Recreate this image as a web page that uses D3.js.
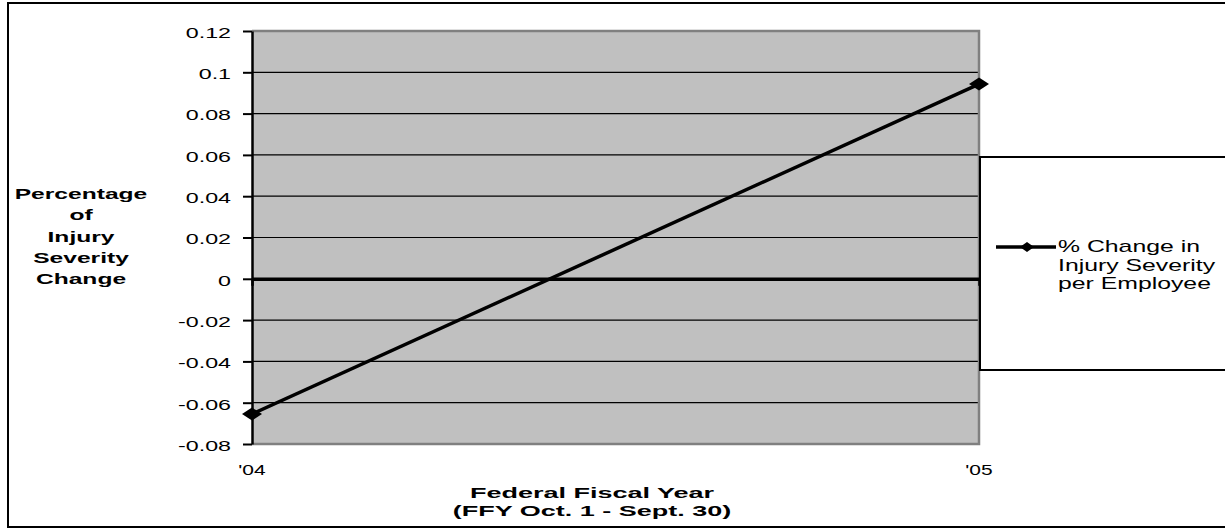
<!DOCTYPE html>
<html>
<head>
<meta charset="utf-8">
<script src="https://cdn.jsdelivr.net/npm/d3@7"></script>
<style>
  html, body { margin: 0; padding: 0; background: #fff; }
  svg { display: block; font-family: "Liberation Sans", Arial, sans-serif; }
</style>
</head>
<body>
<svg id="chart" width="1225" height="529"></svg>
<script>
// Fiscal years and the year-over-year change in injury severity
const years = ["'04", "'05"];
const severityChange = [-0.0655, 0.0943];
const yTicks = [-0.08, -0.06, -0.04, -0.02, 0, 0.02, 0.04, 0.06, 0.08, 0.1, 0.12];
const seriesName = ["% Change in", "Injury Severity", "per Employee"];
const yTitle = ["Percentage", "of", "Injury", "Severity", "Change"];
const xTitle = ["Federal Fiscal Year", "(FFY Oct. 1 - Sept. 30)"];

// Text in this chart is drawn horizontally widened
const SX = 1.55;
const FONT = 15;

const svg = d3.select("#chart");

// Wide, flat diamond marker
const flatDiamond = (w, h) => ({
  draw(ctx) {
    ctx.moveTo(0, -h / 2);
    ctx.lineTo(w / 2, 0);
    ctx.lineTo(0, h / 2);
    ctx.lineTo(-w / 2, 0);
    ctx.closePath();
  }
});

// Outer frame
svg.append("rect")
  .attr("x", 8).attr("y", 3).attr("width", 1230).attr("height", 524)
  .attr("fill", "none").attr("stroke", "#000").attr("stroke-width", 2);

const plot = { left: 252, right: 979, top: 31, bottom: 444 };

const x = d3.scalePoint().domain(years).range([plot.left, plot.right]);
const y = d3.scaleLinear().domain([-0.08, 0.12]).range([plot.bottom, plot.top]);

// Plot background
svg.append("rect")
  .attr("x", plot.left).attr("y", plot.top)
  .attr("width", plot.right - plot.left).attr("height", plot.bottom - plot.top)
  .attr("fill", "#c0c0c0");

// Horizontal gridlines
svg.append("g").selectAll("line")
  .data(yTicks.filter(t => t !== 0 && t !== 0.12 && t !== -0.08))
  .join("line")
  .attr("x1", plot.left).attr("x2", plot.right)
  .attr("y1", d => y(d)).attr("y2", d => y(d))
  .attr("stroke", "#000").attr("stroke-width", 1.2);

// Gray plot border (top, right, bottom)
svg.append("path")
  .attr("d", `M${plot.left},${plot.top}H${plot.right}V${plot.bottom}H${plot.left}`)
  .attr("fill", "none").attr("stroke", "#808080").attr("stroke-width", 2.5);

// Y axis (plain hyphen for negatives)
const yAxis = d3.axisLeft(y)
  .tickValues(yTicks)
  .tickFormat(d => String(+d.toFixed(2)))
  .tickSize(9).tickSizeOuter(0);
const ya = svg.append("g").attr("transform", `translate(${plot.left},0)`).call(yAxis);
ya.select(".domain").attr("stroke", "#000").attr("stroke-width", 2.5);
ya.selectAll(".tick line").attr("stroke", "#000").attr("stroke-width", 2);
ya.selectAll(".tick text")
  .attr("fill", "#000").attr("font-size", FONT)
  .attr("font-family", "Liberation Sans, Arial, sans-serif")
  .attr("x", -21 / SX).attr("dy", "0.42em")
  .attr("transform", `scale(${SX},1)`);

// Category axis along zero
const xAxis = d3.axisBottom(x).tickSize(7).tickSizeOuter(0).tickFormat("");
const xa = svg.append("g").attr("transform", `translate(0,${y(0)})`).call(xAxis);
xa.select(".domain").attr("stroke", "#000").attr("stroke-width", 3.5);
xa.selectAll(".tick line").attr("stroke", "#000").attr("stroke-width", 2.5);

// Helper for widened text at a position
function wideText(sel, px, py, anchor, weight, size, sx) {
  return sel
    .attr("x", 0).attr("y", 0)
    .attr("transform", (d, i) => `translate(${px(d, i)},${py(d, i)}) scale(${sx},1)`)
    .attr("text-anchor", anchor)
    .attr("font-size", size)
    .attr("font-weight", weight)
    .attr("fill", "#000")
    .text(d => d);
}

// Category labels below plot
wideText(svg.append("g").selectAll("text").data(years).join("text"),
  d => x(d), () => 475, "middle", "normal", FONT, 1.4);

// Series line and markers
const line = d3.line().x((d, i) => x(years[i])).y(d => y(d));
svg.append("path")
  .datum(severityChange)
  .attr("d", line)
  .attr("fill", "none").attr("stroke", "#000").attr("stroke-width", 3.5);

svg.append("g").selectAll("path")
  .data(severityChange)
  .join("path")
  .attr("transform", (d, i) => `translate(${x(years[i])},${y(d)})`)
  .attr("d", d3.symbol().type(flatDiamond(20, 13)))
  .attr("fill", "#000");

// Y axis title
wideText(svg.append("g").selectAll("text").data(yTitle).join("text"),
  () => 81, (d, i) => 199 + i * 21.3, "middle", "bold", FONT, 1.64);

// X axis title
wideText(svg.append("g").selectAll("text").data(xTitle).join("text"),
  () => 592, (d, i) => 498 + i * 18, "middle", "bold", FONT, 1.8);

// Legend
const legend = svg.append("g");
legend.append("rect")
  .attr("x", 980).attr("y", 157).attr("width", 300).attr("height", 213)
  .attr("fill", "#fff").attr("stroke", "#000").attr("stroke-width", 2);
legend.append("line")
  .attr("x1", 996).attr("x2", 1056).attr("y1", 247).attr("y2", 247)
  .attr("stroke", "#000").attr("stroke-width", 3.5);
legend.append("path")
  .attr("transform", "translate(1027,247)")
  .attr("d", d3.symbol().type(flatDiamond(14, 10)))
  .attr("fill", "#000");
wideText(legend.append("g").selectAll("text").data(seriesName).join("text"),
  () => 1058, (d, i) => 252 + i * 18.5, "start", "normal", 16, 1.55);
</script>
</body>
</html>
